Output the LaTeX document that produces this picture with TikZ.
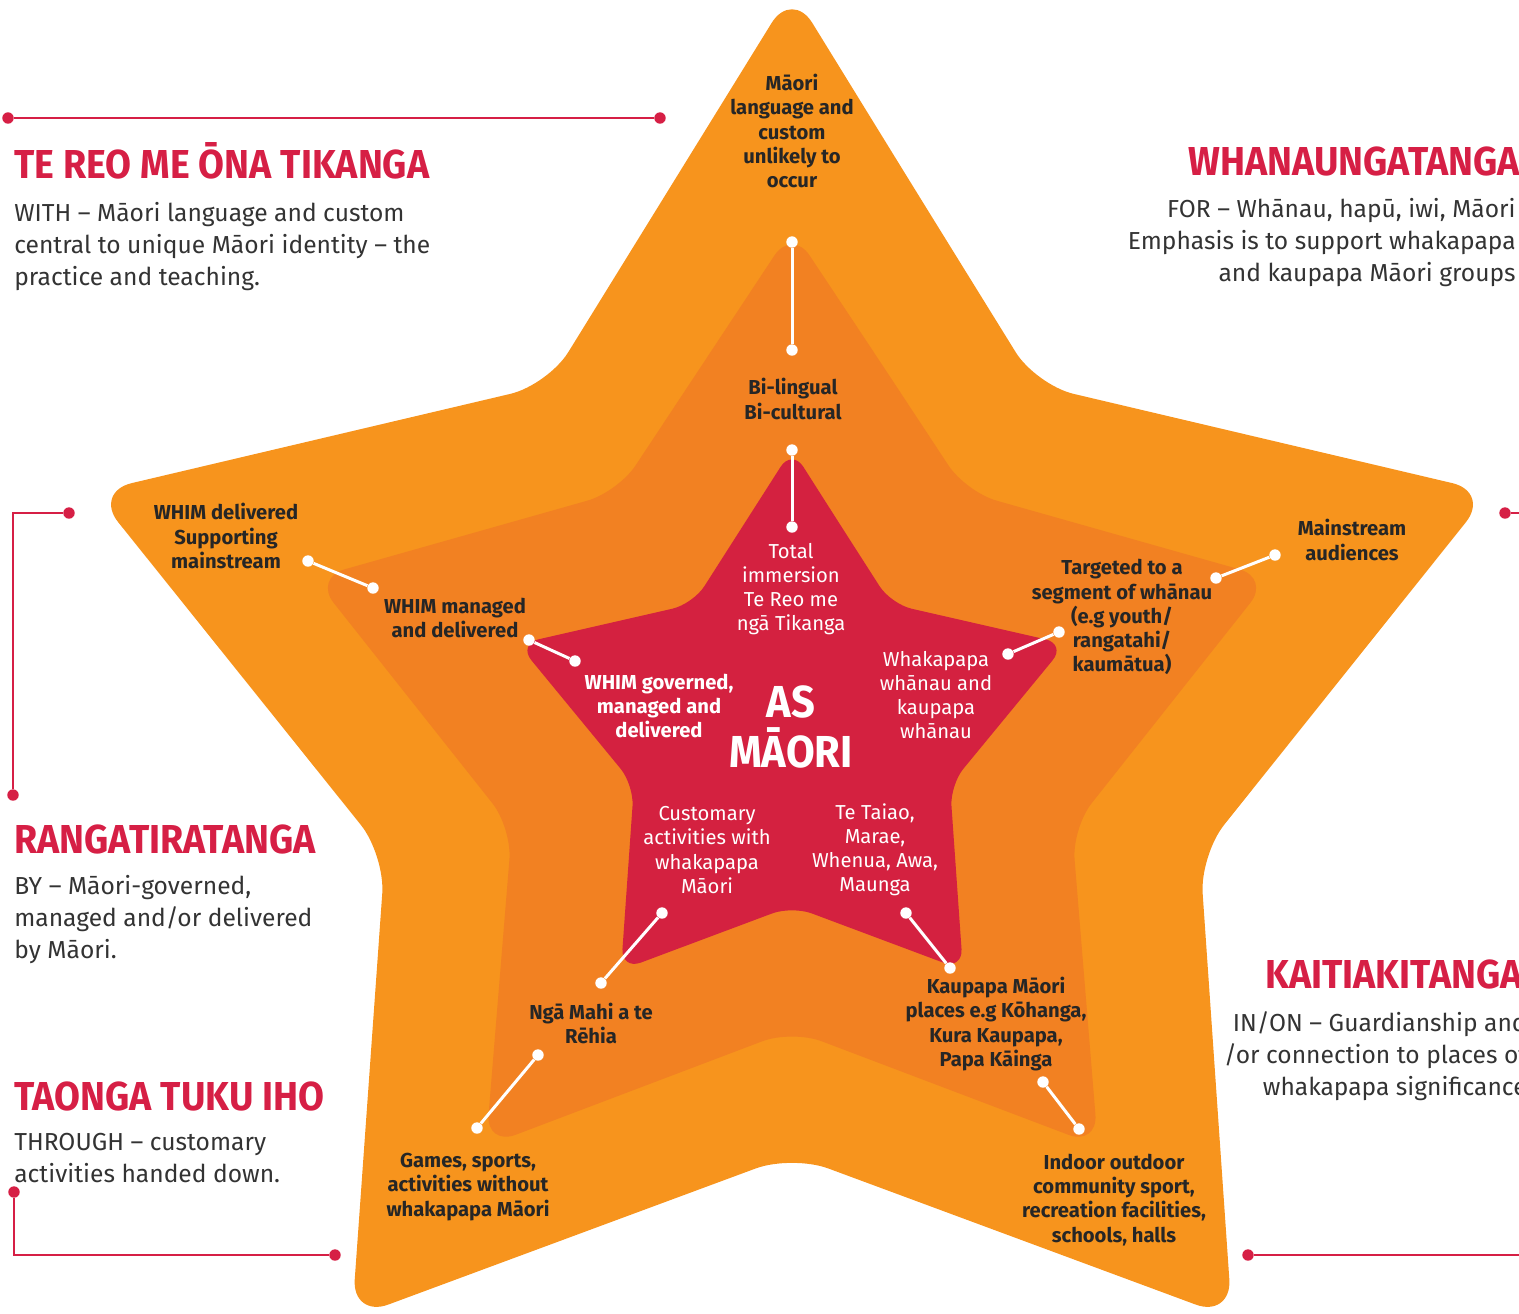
\documentclass[tikz,border=0pt]{standalone}
\usepackage{fontspec}
\setmainfont{Fira Sans}
\newfontfamily\narrowfont{Fira Sans}[FakeStretch=0.93]
\usetikzlibrary{positioning}

\definecolor{outerorange}{HTML}{F7941D}
\definecolor{midorange}{HTML}{F28122}
\definecolor{corered}{HTML}{D42140}
\definecolor{titlered}{HTML}{D61F45}
\definecolor{ink}{HTML}{262626}
\definecolor{bodyink}{HTML}{333333}

\tikzset{
    darklabel/.style={font=\fontsize{11.5}{13.7}\selectfont\bfseries,text=ink,align=center,inner sep=0pt},
    whitelabel/.style={font=\fontsize{11.5}{13.7}\selectfont,text=white,align=center,inner sep=0pt},
    sidetitle/.style={font=\narrowfont\fontsize{23}{26}\selectfont\bfseries,text=titlered,inner sep=0pt},
    blurb/.style={font=\fontsize{14}{18.2}\selectfont,text=bodyink,inner sep=0pt},
    wdot/.style={circle,fill=white,inner sep=0pt,minimum size=6.5pt},
    rdot/.style={circle,fill=titlered,inner sep=0pt,minimum size=6.5pt},
    wline/.style={draw=white,line width=1.7pt},
    rline/.style={draw=titlered,line width=1.5pt}
}

\begin{document}
\begin{tikzpicture}[x=0.02cm,y=-0.02cm]
    \useasboundingbox (0,0) rectangle (1519,1313);
    \clip (0,0) rectangle (1519,1313);
    %% three stars, outer to inner
    \fill[outerorange,rounded corners=22pt] (914,188) -- (1036,385) -- (1490,492) -- (1200,855)
        -- (1232,1318) -- (792,1155) -- (352,1318) -- (385,855) -- (94,492) -- (548,385)
        -- (792,-10) -- cycle;
    \fill[midorange,rounded corners=18pt] (879,360) -- (966,492) -- (1270,578) -- (1072,828)
        -- (1098,1146) -- (792,1030) -- (486,1146) -- (512,828) -- (314,578) -- (618,492)
        -- (792,229) -- cycle;
    \fill[corered,rounded corners=12pt] (841,526) -- (891,604) -- (1066,644) -- (950,785)
        -- (963,970) -- (792,906) -- (621,970) -- (634,785) -- (518,644) -- (693,604)
        -- (792,449) -- cycle;

    %% connectors between the rings
    \foreach \n/\p/\q in {reo/{792,242}/{792,350}, bi/{792,450}/{792,527},
        main/{308,561}/{373,588}, mgd/{529,640}/{575,661},
        aud/{1275,555}/{1216,578}, seg/{1059,632}/{1008,654},
        mahi/{662,913}/{601,983}, play/{538,1055}/{477,1128},
        land/{906,913}/{950,968}, kura/{1043,1082}/{1079,1129}} {
        \node[wdot] (\n-a) at (\p) {};
        \node[wdot] (\n-b) at (\q) {};
        \draw[wline] (\n-a) -- (\n-b);
    }

    %% outer ring
    \node[darklabel] (unlikely) at (792,131) {Māori\\language and\\custom\\unlikely to\\occur};
    \node[darklabel] (wdeliv) at (226,536) {WHIM delivered\\Supporting\\mainstream};
    \node[darklabel] (mainaud) at (1352,540) {Mainstream\\audiences};
    \node[darklabel] (games) at (468,1187) {Games, sports,\\activities without\\whakapapa Māori};
    \node[darklabel] (indoor) at (1114,1200) {Indoor outdoor\\community sport,\\recreation facilities,\\schools, halls};
    %% middle ring
    \node[darklabel] (bicult) at (793,399) {Bi-lingual\\Bi-cultural};
    \node[darklabel] (wmanaged) at (455,618) {WHIM managed\\and delivered};
    \node[darklabel] (segment) at (1122,617) {Targeted to a\\segment of whānau\\(e.g youth/\\rangatahi/\\kaumātua)};
    \node[darklabel] (ngamahi) at (591,1023) {Ngā Mahi a te\\Rēhia};
    \node[darklabel] (kaupapa) at (996,1024) {Kaupapa Māori\\places e.g Kōhanga,\\Kura Kaupapa,\\Papa Kāinga};
    %% inner ring
    \node[whitelabel] (immersion) at (791,589) {Total\\immersion\\Te Reo me\\ngā Tikanga};
    \node[whitelabel,font=\fontsize{11.5}{13.7}\selectfont\bfseries] (wgoverned) at (659,706) {WHIM governed,\\managed and\\delivered};
    \node[whitelabel] (whanau) at (936,695) {Whakapapa\\whānau and\\kaupapa\\whānau};
    \node[whitelabel] (customary) at (707,850) {Customary\\activities with\\whakapapa\\Māori};
    \node[whitelabel] (taiao) at (875,850) {Te Taiao,\\Marae,\\Whenua, Awa,\\Maunga};
    \node[whitelabel,font=\narrowfont\fontsize{25.5}{28.5}\selectfont\bfseries] (asmaori) at (791,727) {AS\\MĀORI};

    %% side panels
    \node[sidetitle,anchor=base west] (reoT) at (14,178) {TE REO ME ŌNA TIKANGA};
    \node[blurb,anchor=north west,align=left] (reoB) at (14,202) {WITH – Māori language and custom\\central to unique Māori identity – the\\practice and teaching.};
    \node[sidetitle,anchor=base west] (whanT) at (1188,175) {WHANAUNGATANGA};
    \node[blurb,anchor=north east,align=right] (whanB) at (1516,198) {FOR – Whānau, hapū, iwi, Māori\\Emphasis is to support whakapapa\\and kaupapa Māori groups};
    \node[sidetitle,anchor=base west] (rangT) at (14,853) {RANGATIRATANGA};
    \node[blurb,anchor=north west,align=left] (rangB) at (14,875) {BY – Māori-governed,\\managed and/or delivered\\by Māori.};
    \node[sidetitle,anchor=base west] (kaitT) at (1265,988) {KAITIAKITANGA};
    \node[blurb,anchor=north east,align=right] (kaitB) at (1527,1011) {IN/ON – Guardianship and\\/or connection to places of\\whakapapa significance};
    \node[sidetitle,anchor=base west] (taonT) at (14,1110) {TAONGA TUKU IHO};
    \node[blurb,anchor=north west,align=left] (taonB) at (14,1133) {THROUGH – customary\\activities handed down.};

    %% red brackets
    \node[rdot] (r1a) at (8,118) {};
    \node[rdot] (r1b) at (660,118) {};
    \draw[rline] (r1a) -- (r1b);
    \node[rdot] (r2a) at (69,513) {};
    \node[rdot] (r2b) at (13,795) {};
    \draw[rline] (r2a) -| (r2b);
    \node[rdot] (r3a) at (14,1192) {};
    \node[rdot] (r3b) at (335,1255) {};
    \draw[rline] (r3a) |- (r3b);
    \node[rdot] (r4a) at (1505,513) {};
    \coordinate (r4b) at (1530,513);
    \draw[rline] (r4a) -- (r4b);
    \node[rdot] (r5a) at (1248,1255) {};
    \coordinate (r5b) at (1530,1255);
    \draw[rline] (r5a) -- (r5b);
\end{tikzpicture}
\end{document}
